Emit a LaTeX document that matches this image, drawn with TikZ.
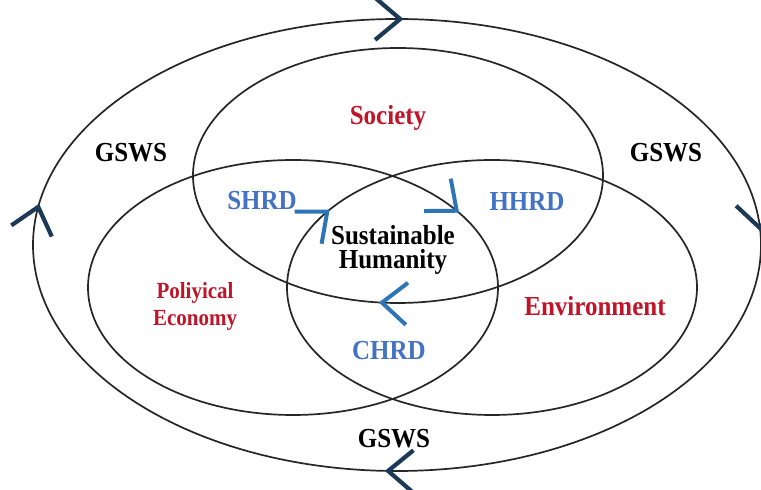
\documentclass[tikz,border=0pt]{standalone}
\usepackage{fontspec}
\setmainfont{Liberation Serif}
\usepackage{graphicx}
\usetikzlibrary{decorations.markings}
\definecolor{redtxt}{RGB}{192,20,40}
\definecolor{bluetxt}{RGB}{68,114,196}
\definecolor{navyarrow}{RGB}{28,58,88}
\definecolor{midblue}{RGB}{46,117,182}
\newcommand\vs[1]{\scalebox{1}[1.1]{#1}}
% chevron on an ellipse: #1 centre, #2 x radius, #3 y radius, #4 parametric angle, #5 style
\newcommand\mychev[5]{%
  \path[decorate, decoration={markings, mark=at position 0.5 with {\draw[#5] (-25,21) -- (0,0) -- (-25,-21);}}]
    (#1) ++(#4+2:#2 and #3) arc[start angle=#4+2, end angle=#4-2, x radius=#2, y radius=#3];%
}
\begin{document}
\begin{tikzpicture}[x=1pt,y=1pt,
  ring/.style={line width=1.7pt, draw=black!85},
  outchev/.style={draw=navyarrow, line width=4.2pt, line join=miter},
  inchev/.style={draw=midblue, line width=4pt, line join=miter},
  bigtxt/.style={font=\bfseries\fontsize{25}{23}\selectfont, inner sep=0pt, anchor=base},
  midtxt/.style={font=\bfseries\fontsize{21}{27}\selectfont, inner sep=0pt, align=center}
]
\useasboundingbox (0,0) rectangle (761,490);
\fill[white] (0,0) rectangle (761,490);

% centres of the ellipses
\coordinate (O) at (397,245);
\coordinate (S) at (398,314.5);
\coordinate (L) at (293,202.5);
\coordinate (R) at (492,202.5);

\draw[ring] (O) ellipse [x radius=364, y radius=226];
\draw[ring] (S) ellipse [x radius=205, y radius=127.5];
\draw[ring] (L) ellipse [x radius=205, y radius=127.5];
\draw[ring] (R) ellipse [x radius=205, y radius=127.5];

% outer cycle arrows (clockwise)
\mychev{O}{364}{226}{89.5}{outchev}
\mychev{O}{364}{226}{4.3}{outchev}
\mychev{O}{364}{226}{268.6}{outchev}
\mychev{O}{364}{226}{170.3}{outchev}

% inner cycle arrows (clockwise)
\mychev{R}{205}{127.5}{143.5}{inchev}
\mychev{L}{205}{127.5}{37}{inchev}
\mychev{S}{205}{127.5}{265.5}{inchev}

% labels
\node[bigtxt, text=redtxt] (society) at (388,365) {\vs{Society}};
\node[bigtxt] (gswsl) at (131,328) {\vs{GSWS}};
\node[bigtxt] (gswsr) at (666,328) {\vs{GSWS}};
\node[bigtxt] (gswsb) at (394,42) {\vs{GSWS}};
\node[bigtxt, text=bluetxt] (shrd) at (262,280) {\vs{SHRD}};
\node[bigtxt, text=bluetxt] (hhrd) at (527,279) {\vs{HHRD}};
\node[bigtxt, text=bluetxt] (chrd) at (389,130) {\vs{CHRD}};
\node[bigtxt, text=redtxt] (env) at (595,174) {\vs{Environment}};
\node[font=\bfseries\fontsize{25}{24}\selectfont, inner sep=0pt, align=center] (sh) at (393,240) {\vs{Sustainable}\\\vs{Humanity}};
\node[midtxt, text=redtxt] (pe) at (195,184) {\vs{Poliyical}\\\vs{Economy}};
\end{tikzpicture}
\end{document}
